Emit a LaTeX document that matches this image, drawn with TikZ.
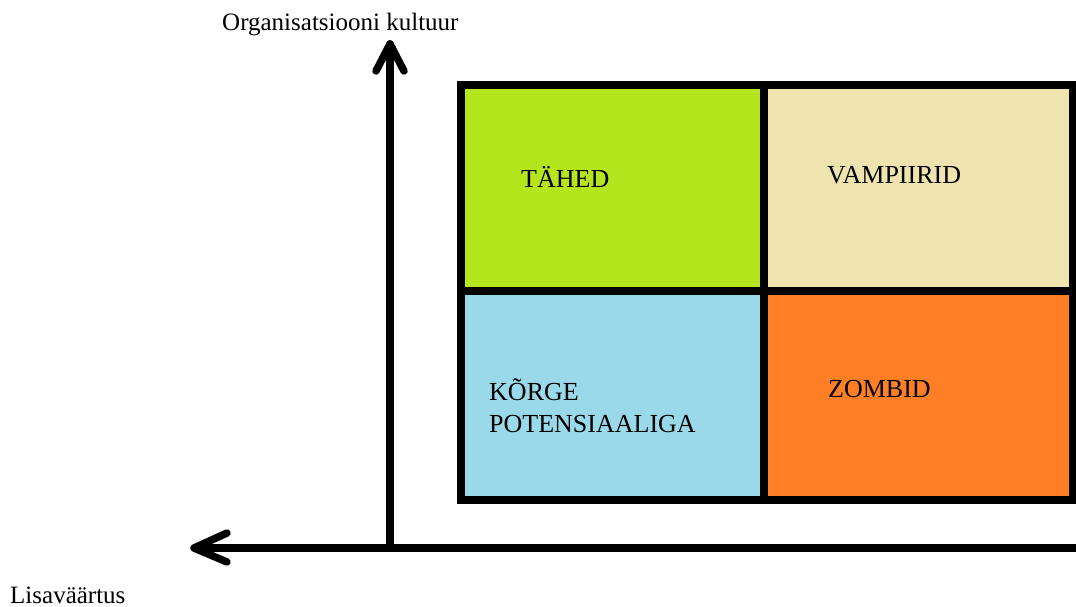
\documentclass[tikz,border=0pt]{standalone}
\usepackage{fontspec}
\setmainfont{Liberation Serif}
\usetikzlibrary{calc}
\definecolor{cgreen}{HTML}{B5E61D}
\definecolor{cbeige}{HTML}{EFE4B0}
\definecolor{cblue}{HTML}{99D9EA}
\definecolor{corange}{HTML}{FF7F27}
\tikzset{
  cell/.style={draw=black, line width=8.5pt, minimum width=303pt, minimum height=206pt, inner sep=0pt, outer sep=0pt},
  celltext/.style={anchor=base west, inner sep=0pt, font=\fontsize{26}{32}\selectfont, align=left},
  axistext/.style={anchor=base west, inner sep=0pt, font=\fontsize{25}{30}\selectfont},
  axisline/.style={line width=7.5pt, line cap=round, line join=round},
}
\begin{document}
\begin{tikzpicture}[x=1pt,y=-1pt]
\useasboundingbox (0,0) rectangle (1076,607);
% cells
\node[cell, fill=cgreen, minimum width=303pt, minimum height=206pt] (tl) at (612.5,188) {};
\node[cell, fill=cbeige, minimum width=309pt, minimum height=206pt] (tr) at (918.5,188) {};
\node[cell, fill=cblue, minimum width=303pt, minimum height=209pt] (bl) at (612.5,395.5) {};
\node[cell, fill=corange, minimum width=309pt, minimum height=209pt] (br) at (918.5,395.5) {};
% texts
\node[celltext] (tahed) at (521,187) {TÄHED};
\node[celltext] (vamp) at (827,183) {VAMPIIRID};
\node[celltext] (korge) at (489,432) {KÕRGE\\POTENSIAALIGA};
\node[celltext] (zomb) at (828,397) {ZOMBID};
\node[axistext] (ylab) at (222,31) {Organisatsiooni kultuur};
\node[axistext] (xlab) at (10,603) {Lisaväärtus};
% axes
\coordinate (origin) at (390,548);
\coordinate (ytip) at (390,44);
\coordinate (xstart) at (1080,548);
\coordinate (xtip) at (194,548);
\draw[axisline, line cap=butt] (xstart) -- (xtip);
\draw[axisline] (origin) -- (ytip);
\draw[axisline] ($(ytip)+(-14,27)$) -- (ytip) -- ($(ytip)+(14,27)$);
\draw[axisline] ($(xtip)+(33,-15)$) -- (xtip) -- ($(xtip)+(33,14)$);
\end{tikzpicture}
\end{document}
